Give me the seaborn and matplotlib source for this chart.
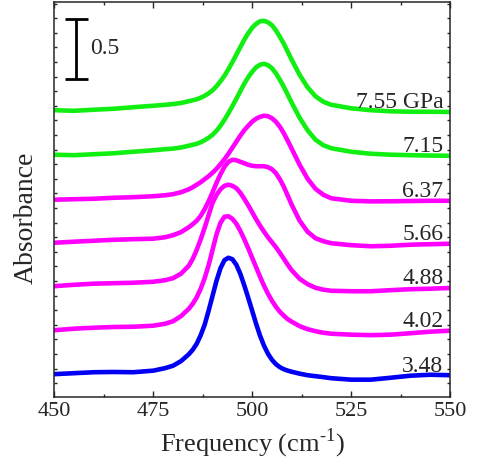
"""Stacked absorbance spectra under pressure."""
import matplotlib
matplotlib.use("Agg")
import matplotlib.pyplot as plt
import numpy as np
import pandas as pd
import seaborn as sns
from matplotlib.ticker import MultipleLocator

frequency = [450, 455, 460, 465, 470, 475, 478, 480, 482, 484, 485, 486, 487, 488, 489,
             490, 491, 492, 493, 494, 495, 496, 497, 498, 499, 500, 501, 502, 503, 504,
             505, 506, 507, 508, 509, 510, 512, 514, 516, 518, 520, 525, 530, 535, 540,
             545, 550]

abs_348 = [0.188, 0.196, 0.204, 0.206, 0.204, 0.217, 0.238, 0.258, 0.296, 0.354, 0.392,
           0.442, 0.513, 0.600, 0.717, 0.842, 0.967, 1.071, 1.138, 1.158, 1.146, 1.100,
           1.025, 0.929, 0.825, 0.717, 0.608, 0.508, 0.425, 0.358, 0.308, 0.271, 0.246,
           0.229, 0.217, 0.208, 0.192, 0.179, 0.171, 0.163, 0.154, 0.142, 0.142, 0.158,
           0.175, 0.183, 0.179]
abs_402 = [0.554, 0.567, 0.575, 0.581, 0.583, 0.592, 0.608, 0.629, 0.671, 0.733, 0.775,
           0.829, 0.900, 0.988, 1.096, 1.225, 1.354, 1.450, 1.500, 1.504, 1.483, 1.442,
           1.383, 1.313, 1.238, 1.158, 1.079, 1.000, 0.925, 0.858, 0.800, 0.750, 0.708,
           0.675, 0.646, 0.625, 0.588, 0.563, 0.546, 0.533, 0.525, 0.517, 0.513, 0.517,
           0.529, 0.542, 0.550]
abs_488 = [0.921, 0.933, 0.942, 0.946, 0.950, 0.958, 0.971, 0.988, 1.025, 1.092, 1.150,
           1.225, 1.313, 1.408, 1.513, 1.617, 1.683, 1.729, 1.758, 1.767, 1.758, 1.738,
           1.700, 1.650, 1.596, 1.538, 1.479, 1.425, 1.375, 1.329, 1.288, 1.246, 1.200,
           1.150, 1.100, 1.054, 0.983, 0.938, 0.908, 0.892, 0.883, 0.879, 0.879, 0.888,
           0.896, 0.900, 0.906]
abs_566 = [1.283, 1.292, 1.300, 1.308, 1.313, 1.317, 1.329, 1.346, 1.371, 1.413, 1.438,
           1.467, 1.508, 1.563, 1.629, 1.704, 1.783, 1.854, 1.917, 1.958, 1.975, 1.971,
           1.958, 1.946, 1.933, 1.925, 1.921, 1.921, 1.921, 1.913, 1.896, 1.863, 1.813,
           1.750, 1.675, 1.600, 1.467, 1.375, 1.321, 1.296, 1.279, 1.263, 1.254, 1.258,
           1.267, 1.271, 1.275]
abs_637 = [1.642, 1.646, 1.650, 1.658, 1.663, 1.671, 1.679, 1.688, 1.704, 1.729, 1.746,
           1.767, 1.788, 1.813, 1.838, 1.867, 1.900, 1.938, 1.979, 2.025, 2.075, 2.125,
           2.175, 2.221, 2.258, 2.292, 2.317, 2.333, 2.342, 2.338, 2.321, 2.292, 2.250,
           2.196, 2.133, 2.067, 1.933, 1.817, 1.733, 1.683, 1.654, 1.633, 1.628, 1.629,
           1.631, 1.633, 1.633]
abs_715 = [2.017, 2.013, 2.021, 2.029, 2.042, 2.054, 2.063, 2.068, 2.077, 2.092, 2.100,
           2.108, 2.121, 2.138, 2.158, 2.183, 2.217, 2.258, 2.308, 2.363, 2.421, 2.483,
           2.546, 2.608, 2.663, 2.708, 2.746, 2.767, 2.775, 2.763, 2.738, 2.696, 2.642,
           2.583, 2.517, 2.450, 2.325, 2.221, 2.142, 2.096, 2.071, 2.042, 2.025, 2.017,
           2.013, 2.010, 2.008]
abs_755 = [2.388, 2.383, 2.392, 2.400, 2.413, 2.425, 2.433, 2.439, 2.448, 2.463, 2.471,
           2.479, 2.492, 2.508, 2.529, 2.554, 2.588, 2.629, 2.675, 2.729, 2.788, 2.850,
           2.913, 2.975, 3.029, 3.075, 3.108, 3.129, 3.133, 3.121, 3.096, 3.054, 3.000,
           2.942, 2.875, 2.808, 2.683, 2.579, 2.504, 2.458, 2.433, 2.404, 2.388, 2.379,
           2.375, 2.375, 2.373]

pressures = ["3.48", "4.02", "4.88", "5.66", "6.37", "7.15", "7.55"]
labels = ["3.48", "4.02", "4.88", "5.66", "6.37", "7.15", "7.55 GPa"]
spectra = [abs_348, abs_402, abs_488, abs_566, abs_637, abs_715, abs_755]
colors = {"3.48": "#0000F5", "4.02": "#FF00FF", "4.88": "#FF00FF", "5.66": "#FF00FF",
          "6.37": "#FF00FF", "7.15": "#11EE11", "7.55": "#11EE11"}

scale_bar = 0.5

frames = [pd.DataFrame({"frequency": frequency, "absorbance": vals, "pressure": p})
          for p, vals in zip(pressures, spectra)]
df = pd.concat(frames, ignore_index=True)

sns.set_style("ticks")
plt.rcParams["font.family"] = ["Liberation Serif", "DejaVu Serif"]
plt.rcParams["mathtext.fontset"] = "custom"
plt.rcParams["mathtext.rm"] = "Liberation Serif"

fig = plt.figure(figsize=(4.78, 4.63), dpi=100)
ax = fig.add_axes([0.1136, 0.1432, 0.8278, 0.8525])

sns.lineplot(data=df, x="frequency", y="absorbance", hue="pressure", palette=colors,
             linewidth=3.3, legend=False, estimator=None, sort=False, ax=ax)
for line in ax.get_lines():
    line.set_solid_joinstyle("round")

for label, vals in zip(labels, spectra):
    ax.text(548.3, vals[-1] + 0.03, label, ha="right", va="baseline", fontsize=17)

# scale bar
bar_top = 3.15
ax.vlines(455.5, bar_top - scale_bar, bar_top, color="black", linewidth=2)
ax.hlines([bar_top - scale_bar, bar_top], 452.6, 458.4, color="black", linewidth=2)
ax.text(459.0, bar_top - scale_bar / 2, str(scale_bar), ha="left", va="center", fontsize=17)

ax.set_xlim(450, 550)
ax.set_ylim(0, 3.29)
ax.xaxis.set_major_locator(MultipleLocator(25))
ax.xaxis.set_minor_locator(MultipleLocator(12.5))
ax.set_yticks(np.arange(0.113, 3.29, 0.1217))
ax.set_yticklabels([])
ax.tick_params(axis="x", which="major", direction="in", length=4.5, width=1,
               top=True, labelsize=16, pad=3.5)
ax.tick_params(axis="x", which="minor", direction="in", length=2.5, width=1, top=True)
ax.tick_params(axis="y", which="major", direction="in", length=2.5, width=1, right=True)
for spine in ax.spines.values():
    spine.set_linewidth(1.1)
    spine.set_visible(True)

ax.set_xlabel(r"Frequency (cm$^{\text{-1}}$)", fontsize=19)
ax.set_ylabel("Absorbance", fontsize=20)
ax.yaxis.set_label_coords(-0.039, 0.453)

fig.savefig("out.png", dpi=100)
plt.close(fig)
